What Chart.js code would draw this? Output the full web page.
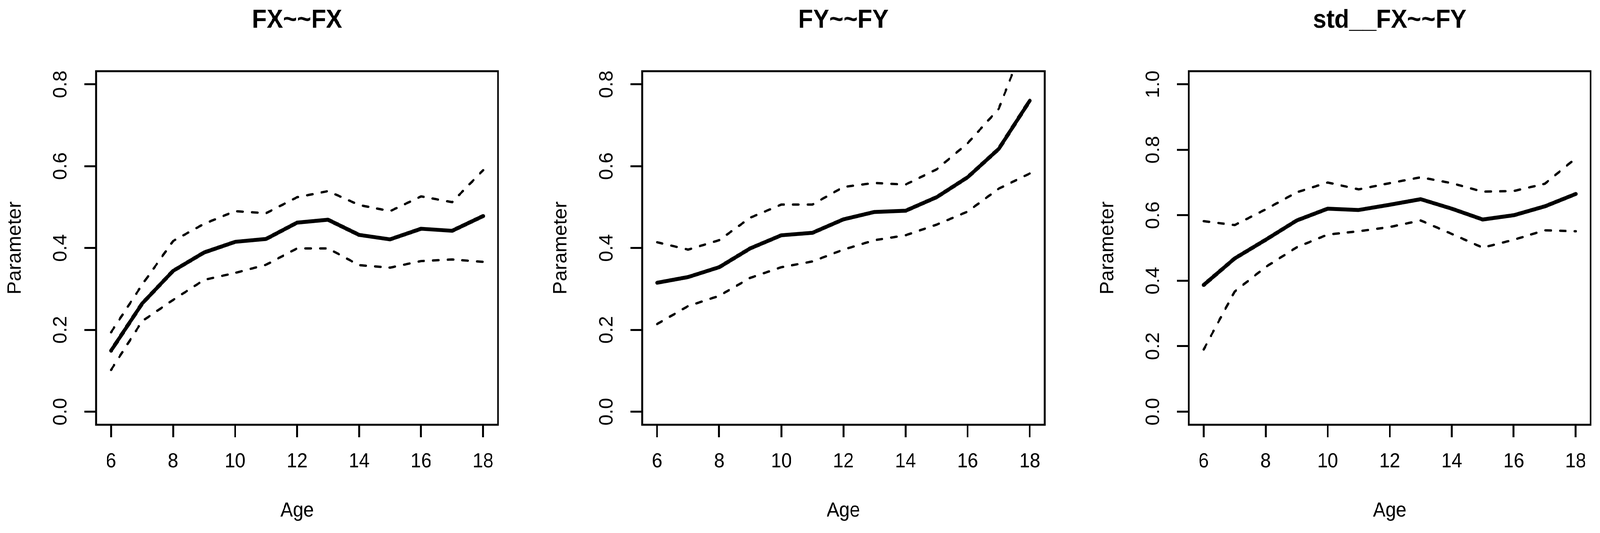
<!DOCTYPE html>
<html>
<head>
<meta charset="utf-8">
<script src="https://cdn.jsdelivr.net/npm/chart.js@4.4.1/dist/chart.umd.min.js"></script>
<style>
  html, body { margin: 0; padding: 0; background: #fff; overflow: hidden; }
  #page { position: absolute; left: 0; top: 0; width: 4358px; height: 1364px; transform-origin: 0 0; background: #fff; }
  canvas { position: absolute; top: 0; }
</style>
</head>
<body>
<div id="page">
<canvas id="c1"></canvas>
<canvas id="c2"></canvas>
<canvas id="c3"></canvas>
</div>
<script>
const ages = [6, 7, 8, 9, 10, 11, 12, 13, 14, 15, 16, 17, 18];
const xTicks = [6, 8, 10, 12, 14, 16, 18];
const yTicks08 = [0, 0.2, 0.4, 0.6, 0.8];
const yTicks10 = [0, 0.2, 0.4, 0.6, 0.8, 1.0];

const fxEst = [0.149, 0.264, 0.344, 0.389, 0.415, 0.422, 0.462, 0.469, 0.432, 0.421, 0.447, 0.442, 0.478];
const fxUp  = [0.194, 0.310, 0.417, 0.459, 0.490, 0.485, 0.524, 0.539, 0.505, 0.490, 0.526, 0.512, 0.590];
const fxLo  = [0.102, 0.221, 0.273, 0.322, 0.339, 0.359, 0.399, 0.399, 0.358, 0.352, 0.368, 0.372, 0.366];

const fyEst = [0.315, 0.329, 0.353, 0.399, 0.431, 0.437, 0.470, 0.488, 0.491, 0.524, 0.573, 0.642, 0.760];
const fyUp  = [0.414, 0.396, 0.419, 0.474, 0.506, 0.506, 0.549, 0.559, 0.555, 0.592, 0.656, 0.740, 0.935];
const fyLo  = [0.214, 0.258, 0.283, 0.327, 0.353, 0.367, 0.396, 0.419, 0.431, 0.457, 0.489, 0.545, 0.582];

const stdEst = [0.387, 0.468, 0.525, 0.584, 0.620, 0.616, 0.632, 0.649, 0.620, 0.587, 0.600, 0.627, 0.665];
const stdUp  = [0.582, 0.570, 0.618, 0.670, 0.700, 0.679, 0.698, 0.716, 0.698, 0.672, 0.674, 0.696, 0.774];
const stdLo  = [0.190, 0.367, 0.442, 0.502, 0.541, 0.551, 0.564, 0.584, 0.543, 0.501, 0.525, 0.554, 0.551];

const FONT = "'Liberation Sans', Arial, Helvetica, sans-serif";

// stretch the 4358x1364 page onto whatever viewport we actually get
const vw = window.innerWidth || document.documentElement.clientWidth || 4358;
const vh = window.innerHeight || document.documentElement.clientHeight || 1364;
const sx = vw / 4358;
const sy = vh / 1364;
if (Math.abs(sx - 1) > 0.001 || Math.abs(sy - 1) > 0.001) {
  document.getElementById("page").style.transform = "scale(" + sx + "," + sy + ")";
}

// box around the plot region, like R's bty="o"
const boxPlugin = {
  id: "box",
  afterDraw(chart) {
    const a = chart.chartArea;
    const ctx = chart.ctx;
    ctx.save();
    ctx.strokeStyle = "#000";
    ctx.lineWidth = 5;
    ctx.lineJoin = "miter";
    ctx.strokeRect(a.left, a.top, a.right - a.left, a.bottom - a.top);
    ctx.restore();
  }
};

function toPoints(vals) {
  return ages.map((a, i) => ({ x: a, y: vals[i] }));
}

function makePanel(id, left, boxW, title, est, up, lo, yMax, yTicks) {
  const canvas = document.getElementById(id);
  const w = 262 + boxW + 20;
  canvas.width = w;
  canvas.height = 1364;
  canvas.style.left = left + "px";
  canvas.style.width = w + "px";
  canvas.style.height = "1364px";

  const pad = yMax * 0.04;
  const dashed = {
    borderColor: "#000",
    borderWidth: 6,
    borderDash: [15, 25],
    borderCapStyle: "round",
    pointRadius: 0,
    tension: 0,
    clip: 0
  };

  new Chart(canvas.getContext("2d"), {
    type: "line",
    data: {
      datasets: [
        { data: toPoints(est), borderColor: "#000", borderWidth: 10, borderCapStyle: "round",
          borderJoinStyle: "round", pointRadius: 0, tension: 0, clip: 0 },
        Object.assign({ data: toPoints(up) }, dashed),
        Object.assign({ data: toPoints(lo) }, dashed)
      ]
    },
    options: {
      responsive: false,
      animation: false,
      devicePixelRatio: 1,
      layout: { padding: { left: 0, right: 20, top: 0, bottom: 0 } },
      plugins: {
        legend: { display: false },
        tooltip: { enabled: false },
        title: {
          display: true,
          text: title,
          fullSize: false,
          color: "#000",
          font: { family: FONT, size: 66, weight: "bold", lineHeight: 1.2 },
          padding: { top: 13, bottom: 90 }
        }
      },
      scales: {
        x: {
          type: "linear",
          min: 5.52,
          max: 18.48,
          afterBuildTicks: s => { s.ticks = xTicks.map(v => ({ value: v })); },
          afterFit: s => { s.height = 277; },
          border: { display: false },
          grid: { display: true, drawOnChartArea: false, drawTicks: true, tickLength: 32,
                  lineWidth: 5, tickColor: "#000", color: "#000" },
          ticks: { color: "#000", font: { family: FONT, size: 51 }, padding: 32,
                   maxRotation: 0, autoSkip: false, callback: v => String(v) },
          title: { display: true, text: "Age", color: "#000",
                   font: { family: FONT, size: 51, lineHeight: 1.2 }, padding: { top: 0, bottom: 25 } }
        },
        y: {
          type: "linear",
          min: -pad,
          max: yMax + pad,
          afterBuildTicks: s => { s.ticks = yTicks.map(v => ({ value: v })); },
          afterFit: s => { s.width = 262; },
          border: { display: false },
          grid: { display: true, drawOnChartArea: false, drawTicks: true, tickLength: 32,
                  lineWidth: 5, tickColor: "#000", color: "#000" },
          ticks: { color: "#000", font: { family: FONT, size: 51 }, padding: 28,
                   minRotation: 90, maxRotation: 90, crossAlign: "center", autoSkip: false,
                   callback: v => Number(v).toFixed(1) },
          title: { display: true, text: "Parameter", color: "#000",
                   font: { family: FONT, size: 51, lineHeight: 1.2 }, padding: { top: 11, bottom: 0 } }
        }
      }
    },
    plugins: [boxPlugin]
  });
}

makePanel("c1", 0, 1095, "FX~~FX", fxEst, fxUp, fxLo, 0.8, yTicks08);
makePanel("c2", 1487, 1097, "FY~~FY", fyEst, fyUp, fyLo, 0.8, yTicks08);
makePanel("c3", 2976, 1095, "std__FX~~FY", stdEst, stdUp, stdLo, 1.0, yTicks10);
</script>
</body>
</html>
